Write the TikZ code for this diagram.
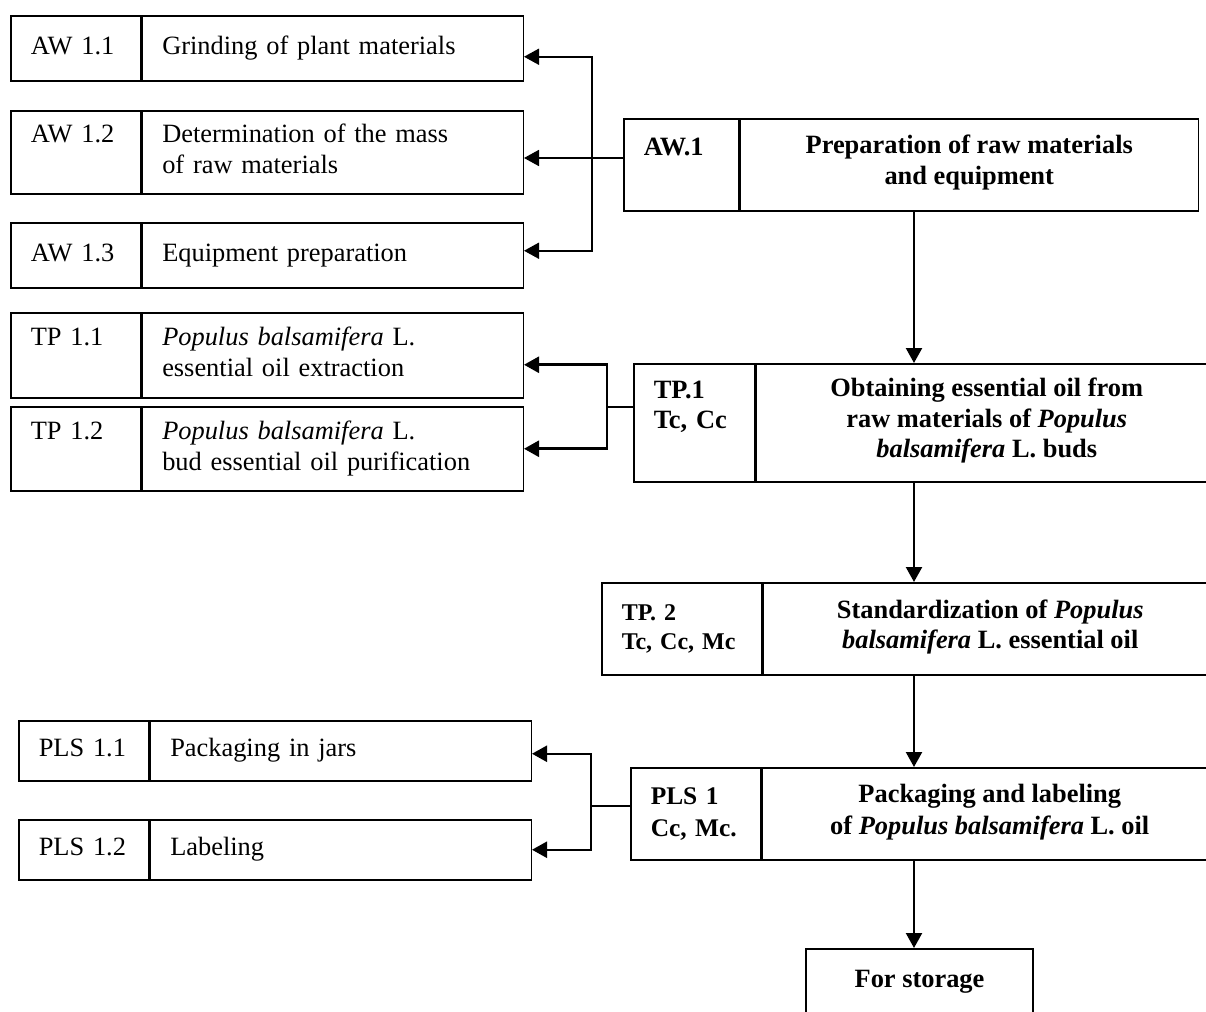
\documentclass[tikz,border=0pt]{standalone}
\usepackage{fontspec}
\setmainfont{Liberation Serif}
\usetikzlibrary{positioning,arrows.meta}

\begin{document}
\begin{tikzpicture}[x=0.5pt, y=-0.5pt,
    box/.style={draw, line width=0.75pt, inner ysep=0pt, font=\fontsize{13.2}{15.5}\selectfont,
      execute at begin node=\strut, execute at end node=\strut},
    bold/.style={font=\fontsize{13.2}{15.5}\selectfont\bfseries},
    code/.style={box, anchor=north west, inner xsep=10pt, align=left},
    task/.style={box, inner xsep=10pt, text width=170.5pt, align=left},
    stage/.style={box, align=center, font=\fontsize{13.2}{#1}\selectfont\bfseries},
    stage/.default=15.5,
    arrow/.style={-{Triangle[length=7.5pt,width=8pt]}, line width=1.1pt}]
  \useasboundingbox (0,0) rectangle (1206,1012);

  % Preparation of raw materials and equipment
  \node[code, text width=45pt, minimum height=32.5pt] (aw11c) at (10,15) {AW 1.1};
  \node[task, minimum height=32.5pt, right=0pt of aw11c] (aw11t) {Grinding of plant materials};
  \node[code, text width=45pt, minimum height=41.5pt] (aw12c) at (10,110) {AW 1.2\\\mbox{}};
  \node[task, minimum height=41.5pt, right=0pt of aw12c] (aw12t) {Determination of the mass\\of raw materials};
  \node[code, text width=45pt, minimum height=32.5pt] (aw13c) at (10,222) {AW 1.3};
  \node[task, minimum height=32.5pt, right=0pt of aw13c] (aw13t) {Equipment preparation};
  \node[code, bold, text width=37.5pt, minimum height=46pt] (aw1c) at (623,118) {AW.1\\\mbox{}};
  \node[stage, minimum width=229pt, minimum height=46pt, right=0pt of aw1c] (aw1t) {Preparation of raw materials\\and equipment};

  % Obtaining essential oil
  \node[code, text width=45pt, minimum height=42.5pt] (tp11c) at (10,312) {TP 1.1\\\mbox{}};
  \node[task, minimum height=42.5pt, right=0pt of tp11c] (tp11t) {\textit{Populus balsamifera} L.\\essential oil extraction};
  \node[code, text width=45pt, minimum height=42pt] (tp12c) at (10,406) {TP 1.2\\\mbox{}};
  \node[task, minimum height=42pt, right=0pt of tp12c] (tp12t) {\textit{Populus balsamifera} L.\\bud essential oil purification};
  \node[code, bold, text width=40.5pt, minimum height=59pt, font=\fontsize{13.2}{15.25}\selectfont\bfseries] (tp1c) at (633,363) {TP.1\\Tc, Cc\\\mbox{}};
  \node[stage=15.25, minimum width=230.5pt, minimum height=59pt, right=0pt of tp1c] (tp1t) {Obtaining essential oil from\\raw materials of \textit{Populus}\\\textit{balsamifera} L. buds};

  % Standardization
  \node[code, text width=60pt, minimum height=46pt, font=\fontsize{12}{14.5}\selectfont\bfseries] (tp2c) at (601,582) {TP. 2\\Tc, Cc, Mc};
  \node[stage=15, minimum width=227pt, minimum height=46pt, right=0pt of tp2c] (tp2t) {Standardization of \textit{Populus}\\\textit{balsamifera} L. essential oil};

  % Packaging and labeling
  \node[code, text width=45pt, minimum height=30pt] (pls11c) at (18,720) {PLS 1.1};
  \node[task, minimum height=30pt, right=0pt of pls11c] (pls11t) {Packaging in jars};
  \node[code, text width=45pt, minimum height=30pt] (pls12c) at (18,819) {PLS 1.2};
  \node[task, minimum height=30pt, right=0pt of pls12c] (pls12t) {Labeling};
  \node[code, text width=45pt, minimum height=46pt, font=\fontsize{12.7}{16}\selectfont\bfseries] (pls1c) at (630,767) {PLS 1\\Cc, Mc.};
  \node[stage=16, minimum width=227.5pt, minimum height=46pt, right=0pt of pls1c] (pls1t) {Packaging and labeling\\of \textit{Populus balsamifera} L. oil};

  \node[stage, anchor=north, minimum width=113.5pt, minimum height=33pt] (store) at (919.5,948) {For storage};

  % Branches to the sub-steps
  \coordinate (awbus) at (592,158);
  \draw[line width=0.8pt] (aw1c.west |- awbus) -- (awbus);
  \draw[arrow, line width=0.9pt] (awbus) |- ([yshift=-4.25pt]aw11t.east);
  \draw[arrow, line width=0.9pt] (awbus) -- (aw12t.east |- awbus);
  \draw[arrow, line width=0.9pt] (awbus) |- ([yshift=2.25pt]aw13t.east);

  \coordinate (tpbus) at (607,407);
  \draw[line width=0.8pt] (tp1c.west |- tpbus) -- (tpbus);
  \draw[arrow, line width=1.3pt] (tpbus) |- ([yshift=-4.75pt]tp11t.east);
  \draw[arrow, line width=1.3pt] (tpbus) |- (tp12t.east);

  \coordinate (plsbus) at (591,806);
  \draw[line width=1.2pt] (pls1c.west |- plsbus) -- (plsbus);
  \draw[arrow, line width=1.2pt] (plsbus) |- ([yshift=-1.5pt]pls11t.east);
  \draw[arrow, line width=1.2pt] (plsbus) |- (pls12t.east);

  % Main flow
  \coordinate (spine) at (914,0);
  \draw[arrow] (aw1t.south -| spine) -- (tp1t.north -| spine);
  \draw[arrow] (tp1t.south -| spine) -- (tp2t.north -| spine);
  \draw[arrow] (tp2t.south -| spine) -- (pls1t.north -| spine);
  \draw[arrow] (pls1t.south -| spine) -- (store.north -| spine);
\end{tikzpicture}
\end{document}
